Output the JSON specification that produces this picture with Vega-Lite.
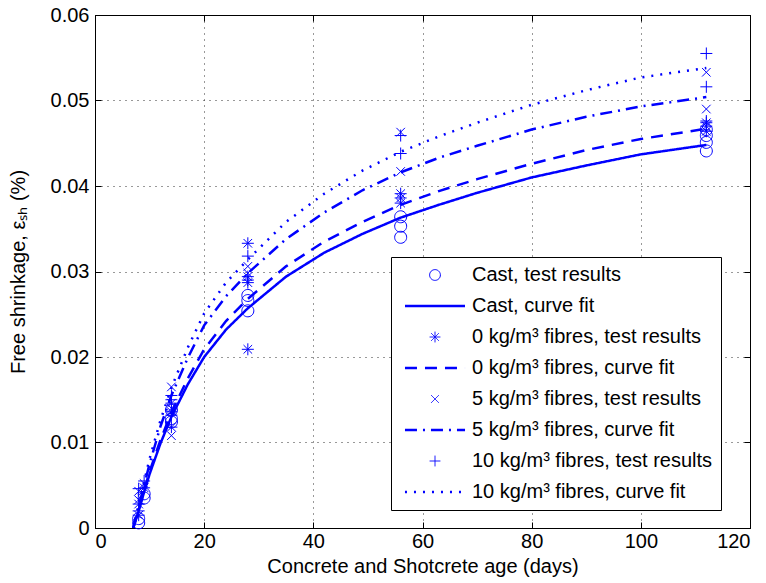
{
  "$schema": "https://vega.github.io/schema/vega-lite/v6.json",
  "width": 655,
  "height": 513,
  "autosize": {"type": "none"},
  "padding": {"left": 95, "top": 15, "right": 16, "bottom": 55},
  "background": "white",
  "config": {
    "view": {"stroke": "black", "strokeWidth": 1},
    "axis": {
      "labelFont": "Liberation Sans", "labelFontSize": 20, "labelColor": "black",
      "titleFont": "Liberation Sans", "titleFontSize": 20, "titleFontWeight": "normal", "titleColor": "black",
      "domainColor": "black", "tickColor": "black", "tickSize": -6,
      "gridColor": "#333", "gridDash": [1, 5], "gridWidth": 1
    },
    "legend": {
      "orient": "none", "legendX": 296, "legendY": 242,
      "strokeColor": "black", "fillColor": "white", "padding": 8,
      "labelFont": "Liberation Sans", "labelFontSize": 20, "labelColor": "black", "labelLimit": 600,
      "symbolSize": 237, "rowPadding": 11, "labelOffset": 27, "symbolOffset": 26,
      "symbolStrokeColor": "#0000ff", "symbolFillColor": "transparent"
    }
  },
  "data": {"values": [
    {"day": 7, "value": 0, "series": "Cast, curve fit", "kind": "fit"},
    {"day": 8, "value": 0.0020, "series": "Cast, curve fit", "kind": "fit"},
    {"day": 9, "value": 0.0042, "series": "Cast, curve fit", "kind": "fit"},
    {"day": 10, "value": 0.0063, "series": "Cast, curve fit", "kind": "fit"},
    {"day": 12, "value": 0.0099, "series": "Cast, curve fit", "kind": "fit"},
    {"day": 14, "value": 0.0130, "series": "Cast, curve fit", "kind": "fit"},
    {"day": 17, "value": 0.0168, "series": "Cast, curve fit", "kind": "fit"},
    {"day": 20, "value": 0.0200, "series": "Cast, curve fit", "kind": "fit"},
    {"day": 24, "value": 0.0232, "series": "Cast, curve fit", "kind": "fit"},
    {"day": 28, "value": 0.0257, "series": "Cast, curve fit", "kind": "fit"},
    {"day": 35, "value": 0.0294, "series": "Cast, curve fit", "kind": "fit"},
    {"day": 42, "value": 0.0322, "series": "Cast, curve fit", "kind": "fit"},
    {"day": 49, "value": 0.0344, "series": "Cast, curve fit", "kind": "fit"},
    {"day": 56, "value": 0.0363, "series": "Cast, curve fit", "kind": "fit"},
    {"day": 63, "value": 0.0378, "series": "Cast, curve fit", "kind": "fit"},
    {"day": 70, "value": 0.0392, "series": "Cast, curve fit", "kind": "fit"},
    {"day": 80, "value": 0.0410, "series": "Cast, curve fit", "kind": "fit"},
    {"day": 90, "value": 0.0424, "series": "Cast, curve fit", "kind": "fit"},
    {"day": 100, "value": 0.0437, "series": "Cast, curve fit", "kind": "fit"},
    {"day": 112, "value": 0.0448, "series": "Cast, curve fit", "kind": "fit"},

    {"day": 7, "value": 0, "series": "0 kg/m³ fibres, curve fit", "kind": "fit"},
    {"day": 8, "value": 0.0021, "series": "0 kg/m³ fibres, curve fit", "kind": "fit"},
    {"day": 9, "value": 0.0044, "series": "0 kg/m³ fibres, curve fit", "kind": "fit"},
    {"day": 10, "value": 0.0066, "series": "0 kg/m³ fibres, curve fit", "kind": "fit"},
    {"day": 12, "value": 0.0103, "series": "0 kg/m³ fibres, curve fit", "kind": "fit"},
    {"day": 14, "value": 0.0135, "series": "0 kg/m³ fibres, curve fit", "kind": "fit"},
    {"day": 17, "value": 0.0175, "series": "0 kg/m³ fibres, curve fit", "kind": "fit"},
    {"day": 20, "value": 0.0209, "series": "0 kg/m³ fibres, curve fit", "kind": "fit"},
    {"day": 24, "value": 0.0242, "series": "0 kg/m³ fibres, curve fit", "kind": "fit"},
    {"day": 28, "value": 0.0268, "series": "0 kg/m³ fibres, curve fit", "kind": "fit"},
    {"day": 35, "value": 0.0306, "series": "0 kg/m³ fibres, curve fit", "kind": "fit"},
    {"day": 42, "value": 0.0335, "series": "0 kg/m³ fibres, curve fit", "kind": "fit"},
    {"day": 49, "value": 0.0358, "series": "0 kg/m³ fibres, curve fit", "kind": "fit"},
    {"day": 56, "value": 0.0378, "series": "0 kg/m³ fibres, curve fit", "kind": "fit"},
    {"day": 63, "value": 0.0394, "series": "0 kg/m³ fibres, curve fit", "kind": "fit"},
    {"day": 70, "value": 0.0408, "series": "0 kg/m³ fibres, curve fit", "kind": "fit"},
    {"day": 80, "value": 0.0426, "series": "0 kg/m³ fibres, curve fit", "kind": "fit"},
    {"day": 90, "value": 0.0442, "series": "0 kg/m³ fibres, curve fit", "kind": "fit"},
    {"day": 100, "value": 0.0455, "series": "0 kg/m³ fibres, curve fit", "kind": "fit"},
    {"day": 112, "value": 0.0467, "series": "0 kg/m³ fibres, curve fit", "kind": "fit"},

    {"day": 7, "value": 0, "series": "5 kg/m³ fibres, curve fit", "kind": "fit"},
    {"day": 8, "value": 0.0025, "series": "5 kg/m³ fibres, curve fit", "kind": "fit"},
    {"day": 9, "value": 0.0050, "series": "5 kg/m³ fibres, curve fit", "kind": "fit"},
    {"day": 10, "value": 0.0075, "series": "5 kg/m³ fibres, curve fit", "kind": "fit"},
    {"day": 12, "value": 0.0119, "series": "5 kg/m³ fibres, curve fit", "kind": "fit"},
    {"day": 14, "value": 0.0155, "series": "5 kg/m³ fibres, curve fit", "kind": "fit"},
    {"day": 17, "value": 0.0199, "series": "5 kg/m³ fibres, curve fit", "kind": "fit"},
    {"day": 20, "value": 0.0237, "series": "5 kg/m³ fibres, curve fit", "kind": "fit"},
    {"day": 24, "value": 0.0271, "series": "5 kg/m³ fibres, curve fit", "kind": "fit"},
    {"day": 28, "value": 0.0298, "series": "5 kg/m³ fibres, curve fit", "kind": "fit"},
    {"day": 35, "value": 0.0338, "series": "5 kg/m³ fibres, curve fit", "kind": "fit"},
    {"day": 42, "value": 0.0369, "series": "5 kg/m³ fibres, curve fit", "kind": "fit"},
    {"day": 49, "value": 0.0395, "series": "5 kg/m³ fibres, curve fit", "kind": "fit"},
    {"day": 56, "value": 0.0416, "series": "5 kg/m³ fibres, curve fit", "kind": "fit"},
    {"day": 63, "value": 0.0433, "series": "5 kg/m³ fibres, curve fit", "kind": "fit"},
    {"day": 70, "value": 0.0447, "series": "5 kg/m³ fibres, curve fit", "kind": "fit"},
    {"day": 80, "value": 0.0466, "series": "5 kg/m³ fibres, curve fit", "kind": "fit"},
    {"day": 90, "value": 0.0481, "series": "5 kg/m³ fibres, curve fit", "kind": "fit"},
    {"day": 100, "value": 0.0493, "series": "5 kg/m³ fibres, curve fit", "kind": "fit"},
    {"day": 112, "value": 0.0504, "series": "5 kg/m³ fibres, curve fit", "kind": "fit"},

    {"day": 7, "value": 0, "series": "10 kg/m³ fibres, curve fit", "kind": "fit"},
    {"day": 8, "value": 0.0027, "series": "10 kg/m³ fibres, curve fit", "kind": "fit"},
    {"day": 9, "value": 0.0054, "series": "10 kg/m³ fibres, curve fit", "kind": "fit"},
    {"day": 10, "value": 0.0081, "series": "10 kg/m³ fibres, curve fit", "kind": "fit"},
    {"day": 12, "value": 0.0126, "series": "10 kg/m³ fibres, curve fit", "kind": "fit"},
    {"day": 14, "value": 0.0164, "series": "10 kg/m³ fibres, curve fit", "kind": "fit"},
    {"day": 17, "value": 0.0211, "series": "10 kg/m³ fibres, curve fit", "kind": "fit"},
    {"day": 20, "value": 0.0251, "series": "10 kg/m³ fibres, curve fit", "kind": "fit"},
    {"day": 24, "value": 0.0287, "series": "10 kg/m³ fibres, curve fit", "kind": "fit"},
    {"day": 28, "value": 0.0314, "series": "10 kg/m³ fibres, curve fit", "kind": "fit"},
    {"day": 35, "value": 0.0358, "series": "10 kg/m³ fibres, curve fit", "kind": "fit"},
    {"day": 42, "value": 0.0391, "series": "10 kg/m³ fibres, curve fit", "kind": "fit"},
    {"day": 49, "value": 0.0418, "series": "10 kg/m³ fibres, curve fit", "kind": "fit"},
    {"day": 56, "value": 0.0440, "series": "10 kg/m³ fibres, curve fit", "kind": "fit"},
    {"day": 63, "value": 0.0458, "series": "10 kg/m³ fibres, curve fit", "kind": "fit"},
    {"day": 70, "value": 0.0474, "series": "10 kg/m³ fibres, curve fit", "kind": "fit"},
    {"day": 80, "value": 0.0495, "series": "10 kg/m³ fibres, curve fit", "kind": "fit"},
    {"day": 90, "value": 0.0512, "series": "10 kg/m³ fibres, curve fit", "kind": "fit"},
    {"day": 100, "value": 0.0527, "series": "10 kg/m³ fibres, curve fit", "kind": "fit"},
    {"day": 112, "value": 0.0538, "series": "10 kg/m³ fibres, curve fit", "kind": "fit"},

    {"day": 8, "value": 0.0006, "series": "Cast, test results", "kind": "test"},
    {"day": 8, "value": 0.0011, "series": "Cast, test results", "kind": "test"},
    {"day": 9, "value": 0.0035, "series": "Cast, test results", "kind": "test"},
    {"day": 9, "value": 0.0040, "series": "Cast, test results", "kind": "test"},
    {"day": 14, "value": 0.0138, "series": "Cast, test results", "kind": "test"},
    {"day": 14, "value": 0.0128, "series": "Cast, test results", "kind": "test"},
    {"day": 14, "value": 0.0124, "series": "Cast, test results", "kind": "test"},
    {"day": 28, "value": 0.0272, "series": "Cast, test results", "kind": "test"},
    {"day": 28, "value": 0.0266, "series": "Cast, test results", "kind": "test"},
    {"day": 28, "value": 0.0254, "series": "Cast, test results", "kind": "test"},
    {"day": 56, "value": 0.0364, "series": "Cast, test results", "kind": "test"},
    {"day": 56, "value": 0.0353, "series": "Cast, test results", "kind": "test"},
    {"day": 56, "value": 0.0340, "series": "Cast, test results", "kind": "test"},
    {"day": 112, "value": 0.0466, "series": "Cast, test results", "kind": "test"},
    {"day": 112, "value": 0.0459, "series": "Cast, test results", "kind": "test"},
    {"day": 112, "value": 0.0451, "series": "Cast, test results", "kind": "test"},
    {"day": 112, "value": 0.0441, "series": "Cast, test results", "kind": "test"},

    {"day": 8, "value": 0.0015, "series": "0 kg/m³ fibres, test results", "kind": "test"},
    {"day": 8, "value": 0.0028, "series": "0 kg/m³ fibres, test results", "kind": "test"},
    {"day": 9, "value": 0.0047, "series": "0 kg/m³ fibres, test results", "kind": "test"},
    {"day": 14, "value": 0.0146, "series": "0 kg/m³ fibres, test results", "kind": "test"},
    {"day": 14, "value": 0.0136, "series": "0 kg/m³ fibres, test results", "kind": "test"},
    {"day": 14, "value": 0.0118, "series": "0 kg/m³ fibres, test results", "kind": "test"},
    {"day": 28, "value": 0.0333, "series": "0 kg/m³ fibres, test results", "kind": "test"},
    {"day": 28, "value": 0.0294, "series": "0 kg/m³ fibres, test results", "kind": "test"},
    {"day": 28, "value": 0.0287, "series": "0 kg/m³ fibres, test results", "kind": "test"},
    {"day": 28, "value": 0.0209, "series": "0 kg/m³ fibres, test results", "kind": "test"},
    {"day": 56, "value": 0.0391, "series": "0 kg/m³ fibres, test results", "kind": "test"},
    {"day": 56, "value": 0.0386, "series": "0 kg/m³ fibres, test results", "kind": "test"},
    {"day": 56, "value": 0.0380, "series": "0 kg/m³ fibres, test results", "kind": "test"},
    {"day": 112, "value": 0.0474, "series": "0 kg/m³ fibres, test results", "kind": "test"},
    {"day": 112, "value": 0.0470, "series": "0 kg/m³ fibres, test results", "kind": "test"},
    {"day": 112, "value": 0.0464, "series": "0 kg/m³ fibres, test results", "kind": "test"},

    {"day": 8, "value": 0.0033, "series": "5 kg/m³ fibres, test results", "kind": "test"},
    {"day": 8, "value": 0.0043, "series": "5 kg/m³ fibres, test results", "kind": "test"},
    {"day": 9, "value": 0.0052, "series": "5 kg/m³ fibres, test results", "kind": "test"},
    {"day": 14, "value": 0.0165, "series": "5 kg/m³ fibres, test results", "kind": "test"},
    {"day": 14, "value": 0.0140, "series": "5 kg/m³ fibres, test results", "kind": "test"},
    {"day": 14, "value": 0.0108, "series": "5 kg/m³ fibres, test results", "kind": "test"},
    {"day": 28, "value": 0.0306, "series": "5 kg/m³ fibres, test results", "kind": "test"},
    {"day": 28, "value": 0.0298, "series": "5 kg/m³ fibres, test results", "kind": "test"},
    {"day": 56, "value": 0.0463, "series": "5 kg/m³ fibres, test results", "kind": "test"},
    {"day": 56, "value": 0.0417, "series": "5 kg/m³ fibres, test results", "kind": "test"},
    {"day": 112, "value": 0.0533, "series": "5 kg/m³ fibres, test results", "kind": "test"},
    {"day": 112, "value": 0.0490, "series": "5 kg/m³ fibres, test results", "kind": "test"},

    {"day": 8, "value": 0.0020, "series": "10 kg/m³ fibres, test results", "kind": "test"},
    {"day": 8, "value": 0.0046, "series": "10 kg/m³ fibres, test results", "kind": "test"},
    {"day": 9, "value": 0.0055, "series": "10 kg/m³ fibres, test results", "kind": "test"},
    {"day": 14, "value": 0.0155, "series": "10 kg/m³ fibres, test results", "kind": "test"},
    {"day": 14, "value": 0.0150, "series": "10 kg/m³ fibres, test results", "kind": "test"},
    {"day": 14, "value": 0.0132, "series": "10 kg/m³ fibres, test results", "kind": "test"},
    {"day": 28, "value": 0.0318, "series": "10 kg/m³ fibres, test results", "kind": "test"},
    {"day": 28, "value": 0.0290, "series": "10 kg/m³ fibres, test results", "kind": "test"},
    {"day": 56, "value": 0.0459, "series": "10 kg/m³ fibres, test results", "kind": "test"},
    {"day": 56, "value": 0.0438, "series": "10 kg/m³ fibres, test results", "kind": "test"},
    {"day": 112, "value": 0.0555, "series": "10 kg/m³ fibres, test results", "kind": "test"},
    {"day": 112, "value": 0.0516, "series": "10 kg/m³ fibres, test results", "kind": "test"},
    {"day": 112, "value": 0.0476, "series": "10 kg/m³ fibres, test results", "kind": "test"}
  ]},
  "resolve": {"axis": {"x": "independent", "y": "independent"}},
  "layer": [
    {
      "transform": [{"filter": "datum.kind === 'fit'"}],
      "mark": {"type": "line", "color": "#0000ff", "clip": true},
      "encoding": {
        "x": {"field": "day", "type": "quantitative", "scale": {"domain": [0, 120], "nice": false},
              "axis": {"orient": "top", "labels": false, "title": null, "grid": false, "values": [0, 20, 40, 60, 80, 100, 120]}},
        "y": {"field": "value", "type": "quantitative", "scale": {"domain": [0, 0.06], "nice": false},
              "axis": {"orient": "right", "labels": false, "title": null, "grid": false, "values": [0, 0.01, 0.02, 0.03, 0.04, 0.05, 0.06]}},
        "detail": {"field": "series"},
        "strokeDash": {"field": "series", "type": "nominal",
          "scale": {"domain": ["Cast, test results", "Cast, curve fit", "0 kg/m³ fibres, test results", "0 kg/m³ fibres, curve fit", "5 kg/m³ fibres, test results", "5 kg/m³ fibres, curve fit", "10 kg/m³ fibres, test results", "10 kg/m³ fibres, curve fit"],
                    "range": [[1, 0], [1, 0], [1, 0], [12, 8], [1, 0], [12, 6, 2, 6], [1, 0], [2, 7]]},
          "legend": {"title": null}},
        "strokeWidth": {"field": "series", "type": "nominal",
          "scale": {"type": "ordinal", "domain": ["Cast, test results", "Cast, curve fit", "0 kg/m³ fibres, test results", "0 kg/m³ fibres, curve fit", "5 kg/m³ fibres, test results", "5 kg/m³ fibres, curve fit", "10 kg/m³ fibres, test results", "10 kg/m³ fibres, curve fit"],
                    "range": [1, 2.5, 1, 2.5, 1, 2.5, 1, 2.5]},
          "legend": {"title": null}}
      }
    },
    {
      "transform": [{"filter": "datum.kind === 'test'"}],
      "mark": {"type": "point", "color": "#0000ff", "filled": false, "size": 294, "opacity": 1},
      "encoding": {
        "x": {"field": "day", "type": "quantitative", "scale": {"domain": [0, 120], "nice": false},
              "axis": {"orient": "bottom", "title": "Concrete and Shotcrete age (days)", "grid": true, "values": [0, 20, 40, 60, 80, 100, 120], "labelPadding": 9, "titlePadding": 5}},
        "y": {"field": "value", "type": "quantitative", "scale": {"domain": [0, 0.06], "nice": false},
              "axis": {"orient": "left", "title": "Free shrinkage, εₛₕ (%)", "format": ".2~f", "grid": true, "values": [0, 0.01, 0.02, 0.03, 0.04, 0.05, 0.06], "labelPadding": 12, "titlePadding": 22}},
        "shape": {"field": "series", "type": "nominal",
          "scale": {"domain": ["Cast, test results", "Cast, curve fit", "0 kg/m³ fibres, test results", "0 kg/m³ fibres, curve fit", "5 kg/m³ fibres, test results", "5 kg/m³ fibres, curve fit", "10 kg/m³ fibres, test results", "10 kg/m³ fibres, curve fit"],
                    "range": ["M0.7,0A0.7,0.7,0,1,1,-0.7,0A0.7,0.7,0,1,1,0.7,0Z", "M-3.9,0H3.9", "M-0.7,0H0.7M0,-0.7V0.7M-0.5,-0.5L0.5,0.5M-0.5,0.5L0.5,-0.5", "M-3.9,0H3.9", "M-0.5,-0.5L0.5,0.5M-0.5,0.5L0.5,-0.5", "M-3.9,0H3.9", "M-0.7,0H0.7M0,-0.7V0.7", "M-3.9,0H3.9"]},
          "legend": {"title": null}},
        "strokeWidth": {"field": "series", "type": "nominal",
          "scale": {"type": "ordinal", "domain": ["Cast, test results", "Cast, curve fit", "0 kg/m³ fibres, test results", "0 kg/m³ fibres, curve fit", "5 kg/m³ fibres, test results", "5 kg/m³ fibres, curve fit", "10 kg/m³ fibres, test results", "10 kg/m³ fibres, curve fit"],
                    "range": [1, 2.5, 1, 2.5, 1, 2.5, 1, 2.5]},
          "legend": {"title": null}}
      }
    }
  ]
}
